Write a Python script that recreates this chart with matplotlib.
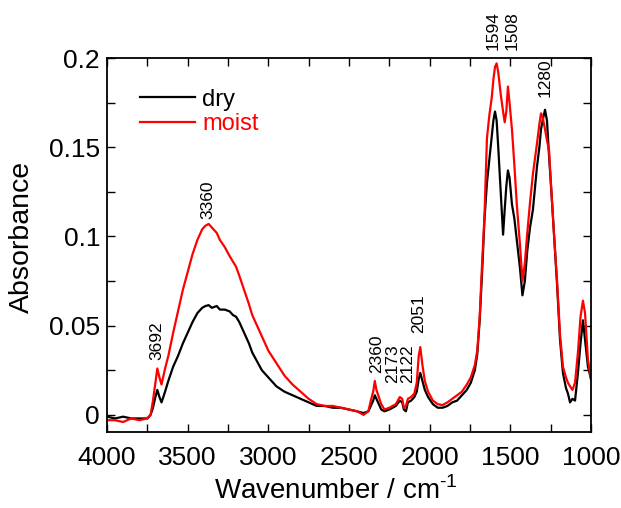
import numpy as np
import matplotlib
matplotlib.use("Agg")
import matplotlib.pyplot as plt
from matplotlib.ticker import MultipleLocator

plt.rcParams['font.family'] = ['Liberation Sans', 'DejaVu Sans']
plt.rcParams['mathtext.fontset'] = 'custom'
plt.rcParams['mathtext.rm'] = 'Liberation Sans'

# wavenumber (cm-1) and absorbance
wavenumber = [4000, 3950, 3900, 3850, 3800, 3750, 3730, 3715, 3700, 3688,
              3675, 3662, 3640, 3620, 3590, 3560, 3530, 3500, 3470, 3440,
              3410, 3390, 3370, 3350, 3320, 3300, 3270, 3240, 3220, 3200,
              3180, 3150, 3120, 3100, 3070, 3040, 3000, 2950, 2900, 2850,
              2800, 2750, 2700, 2650, 2600, 2550, 2500, 2450, 2410, 2380,
              2365, 2350, 2340, 2330, 2315, 2300, 2280, 2250, 2210, 2185,
              2170, 2160, 2147, 2135, 2115, 2095, 2080, 2068, 2058, 2045,
              2030, 2010, 1980, 1950, 1920, 1890, 1860, 1830, 1800, 1770,
              1745, 1720, 1705, 1690, 1675, 1660, 1645, 1630, 1615, 1605,
              1595, 1585, 1575, 1560, 1545, 1535, 1525, 1515, 1505, 1490,
              1475, 1460, 1440, 1425, 1410, 1395, 1378, 1360, 1335, 1320,
              1310, 1300, 1285, 1273, 1260, 1242, 1225, 1211, 1192, 1174,
              1155, 1143, 1130, 1115, 1099, 1081, 1065, 1050, 1037, 1019,
              1000]

dry = [-0.001, -0.002, -0.001, -0.002, -0.002, -0.002, 0.000, 0.004, 0.010, 0.014,
       0.010, 0.007, 0.013, 0.019, 0.027, 0.033, 0.040, 0.046, 0.052, 0.057,
       0.060, 0.061, 0.0615, 0.060, 0.061, 0.059, 0.059, 0.058, 0.056, 0.055,
       0.052, 0.046, 0.040, 0.035, 0.030, 0.025, 0.021, 0.016, 0.013, 0.011,
       0.009, 0.007, 0.005, 0.005, 0.004, 0.004, 0.003, 0.002, 0.001, 0.002,
       0.005, 0.008, 0.011, 0.009, 0.006, 0.003, 0.002, 0.003, 0.005, 0.008,
       0.007, 0.003, 0.002, 0.007, 0.008, 0.010, 0.013, 0.020, 0.0235, 0.019,
       0.014, 0.010, 0.006, 0.004, 0.004, 0.005, 0.007, 0.008, 0.011, 0.014,
       0.018, 0.025, 0.034, 0.053, 0.080, 0.110, 0.130, 0.143, 0.156, 0.165,
       0.170, 0.165, 0.150, 0.125, 0.101, 0.115, 0.128, 0.137, 0.133, 0.118,
       0.110, 0.098, 0.082, 0.067, 0.075, 0.092, 0.105, 0.115, 0.139, 0.150,
       0.160, 0.165, 0.171, 0.165, 0.145, 0.120, 0.095, 0.074, 0.042, 0.0235,
       0.015, 0.012, 0.007, 0.009, 0.008, 0.0235, 0.040, 0.053, 0.042, 0.027,
       0.020]

moist = [-0.003, -0.003, -0.004, -0.002, -0.003, -0.002, 0.000, 0.008, 0.018, 0.026,
         0.021, 0.017, 0.026, 0.033, 0.046, 0.058, 0.070, 0.080, 0.090, 0.098,
         0.104, 0.106, 0.107, 0.105, 0.102, 0.098, 0.094, 0.089, 0.086, 0.083,
         0.078, 0.070, 0.062, 0.056, 0.050, 0.044, 0.036, 0.029, 0.022, 0.017,
         0.013, 0.009, 0.006, 0.005, 0.005, 0.004, 0.003, 0.002, 0.000, 0.002,
         0.008, 0.013, 0.019, 0.014, 0.010, 0.006, 0.003, 0.004, 0.006, 0.010,
         0.009, 0.004, 0.005, 0.009, 0.010, 0.012, 0.018, 0.033, 0.038, 0.028,
         0.019, 0.013, 0.008, 0.006, 0.0055, 0.007, 0.009, 0.011, 0.013, 0.017,
         0.021, 0.028, 0.036, 0.055, 0.085, 0.112, 0.155, 0.168, 0.178, 0.188,
         0.195, 0.197, 0.192, 0.180, 0.170, 0.164, 0.170, 0.184, 0.175, 0.160,
         0.140, 0.118, 0.095, 0.075, 0.085, 0.102, 0.119, 0.135, 0.152, 0.163,
         0.169, 0.167, 0.160, 0.154, 0.148, 0.120, 0.095, 0.076, 0.045, 0.027,
         0.021, 0.018, 0.016, 0.014, 0.018, 0.035, 0.055, 0.064, 0.057, 0.031,
         0.020]

# peak labels and where they sit (wavenumber, absorbance at text bottom)
peak_labels = ['3692', '3360', '2360', '2173', '2122', '2051', '1594', '1508', '1280']
peak_x = [3690, 3374, 2327, 2227, 2134, 2066, 1607, 1490, 1285]
peak_y = [0.031, 0.110, 0.0235, 0.018, 0.018, 0.046, 0.2045, 0.2045, 0.178]

fig = plt.figure(figsize=(6.21, 5.08), dpi=100)
ax = fig.add_axes([0.1723, 0.1496, 0.7794, 0.7362])

ax.plot(wavenumber, dry, color='black', lw=1.6, label='dry')
ax.plot(wavenumber, moist, color='#ff0000', lw=1.6, label='moist')

for lab, x, y in zip(peak_labels, peak_x, peak_y):
    ax.text(x, y, lab, rotation=90, ha='center', va='bottom',
            fontsize=12.5, clip_on=False)

ax.set_xlim(4000, 1000)
ax.set_ylim(-0.0096, 0.2)
ax.xaxis.set_major_locator(MultipleLocator(500))
ax.xaxis.set_minor_locator(MultipleLocator(250))
ax.yaxis.set_minor_locator(MultipleLocator(0.025))
ax.set_yticks([0, 0.05, 0.1, 0.15, 0.2])
ax.set_yticklabels(['0', '0.05', '0.1', '0.15', '0.2'])

ax.tick_params(which='both', direction='in', top=True, right=True,
               length=6, width=1.0)
ax.tick_params(axis='x', which='major', labelsize=19, pad=10)
ax.tick_params(axis='y', which='major', labelsize=19, pad=5)
for s in ax.spines.values():
    s.set_linewidth(1.3)

ax.set_xlabel('Wavenumber / cm$^{\\text{-1}}$', fontsize=20)
ax.xaxis.set_label_coords(0.473, -0.118)
ax.set_ylabel('Absorbance', fontsize=20.5)
ax.yaxis.set_label_coords(-0.149, 0.521)

leg = ax.legend(loc='upper left', bbox_to_anchor=(0.068, 0.918), frameon=False,
                fontsize=17, handlelength=2.35, handletextpad=0.3,
                borderpad=0, borderaxespad=0, labelspacing=0.1,
                labelcolor='linecolor')

fig.savefig('out.png', dpi=100)
